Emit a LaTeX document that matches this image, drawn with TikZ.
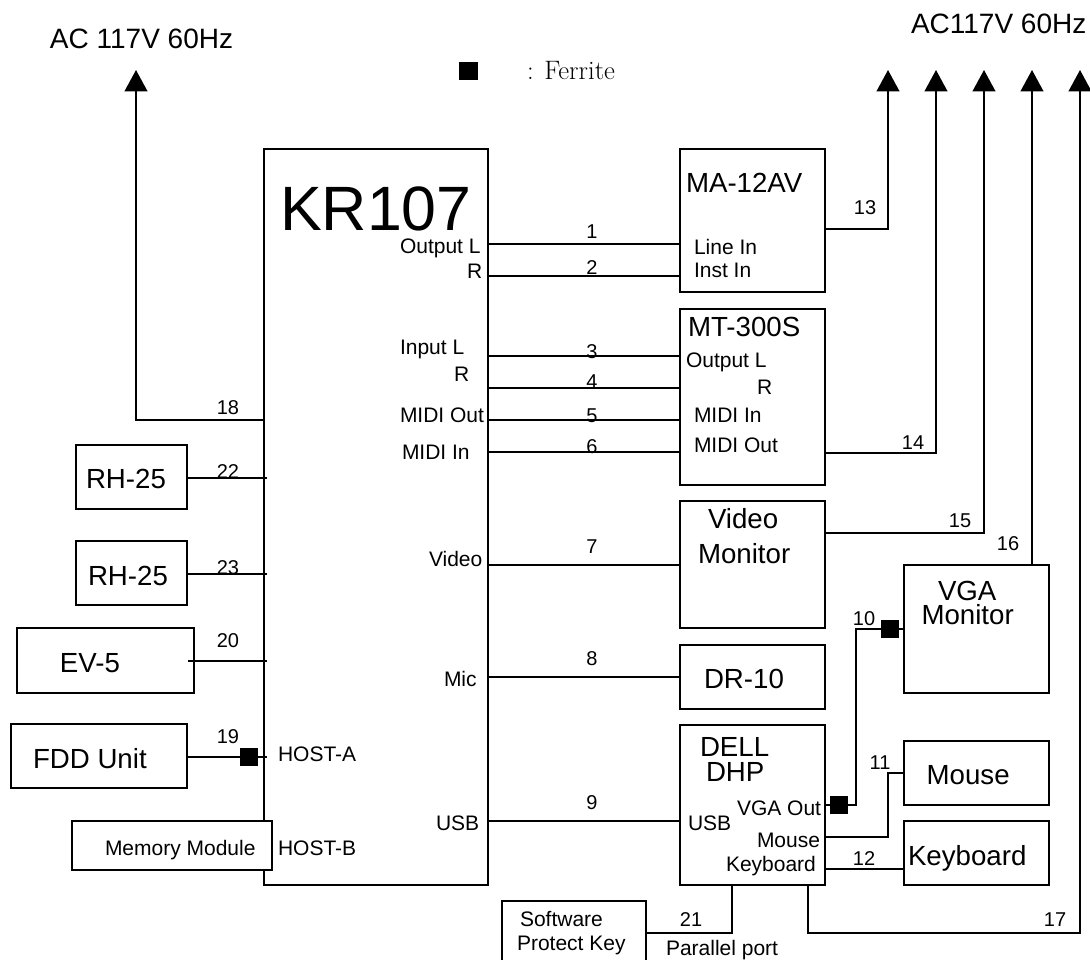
\documentclass[tikz,border=0pt]{standalone}
\usepackage{fontspec}
\setmainfont{Liberation Sans}
\newfontfamily\lmfont{Latin Modern Roman}
\usetikzlibrary{arrows.meta}
\tikzset{
  box/.style={draw=black,line width=1.9pt,fill=white,inner sep=0pt,outer sep=0pt},
  wire/.style={draw=black,line width=1.5pt},
  thinwire/.style={draw=black,line width=1.1pt},
  power/.style={wire,-{Triangle[width=17pt,length=16pt]}},
  ferrite/.style={fill=black,inner sep=0pt,outer sep=0pt,minimum width=13.5pt,minimum height=14pt},
  txt/.style={inner sep=0pt,outer sep=0pt,anchor=base west},
  small/.style={txt,font=\fontsize{15.75}{15.75}\selectfont},
  big/.style={txt,font=\fontsize{20.75}{20.75}\selectfont},
  ac/.style={txt,font=\fontsize{21}{21}\selectfont},
  num/.style={inner sep=0pt,outer sep=0pt,anchor=base,font=\fontsize{15}{15}\selectfont},
  title/.style={txt,font=\fontsize{47}{47}\selectfont}
}
\newcommand{\pbox}[5]{\node[box,minimum width={(#4-#2)*0.75pt},minimum height={(#5-#3)*0.75pt}] (#1) at ({(#2+#4)/2},{(#3+#5)/2}) {};}
\begin{document}
\begin{tikzpicture}[x=0.75pt,y=-0.75pt]
\useasboundingbox (0,0) rectangle (1090,960);
% boxes
\pbox{kr}{264}{149}{488}{885}
\pbox{ma}{680}{149}{825}{292}
\pbox{mt}{680}{309}{825}{485}
\pbox{vid}{680}{501}{825}{628}
\pbox{dr}{680}{645}{825}{709}
\pbox{dell}{680}{725}{825}{885}
\pbox{vga}{904}{565}{1049}{693}
\pbox{mouse}{904}{741}{1049}{805}
\pbox{kbd}{904}{821}{1049}{885}
\pbox{rha}{76}{445}{187}{509}
\pbox{rhb}{76}{541}{187}{605}
\pbox{ev}{17}{628}{194}{693}
\pbox{fdd}{11}{724}{187}{788}
\pbox{mem}{72}{821}{272}{870}
\pbox{soft}{502}{901}{646}{972}
% free ends
\coordinate (up18) at (136,70);
\coordinate (up13) at (888,70);
\coordinate (up14) at (936,70);
\coordinate (up15) at (984,70);
\coordinate (up16) at (1032,70);
\coordinate (up17) at (1080,70);
\coordinate (in22) at (267,478);
\coordinate (in23) at (267,574);
\coordinate (in20) at (267,661);
\coordinate (in19) at (267,757);
\coordinate (ev20) at (188,661);
% connectors, left
\draw[power] (kr.west |- 0,420) -| (up18);
\draw[wire] (rha.east |- in22) -- (in22);
\draw[wire] (rhb.east |- in23) -- (in23);
\draw[thinwire] (ev20) -- (in20);
\draw[wire] (fdd.east |- in19) -- (in19);
% connectors, right
\foreach \yy/\tgt in {244/ma,276/ma,356/mt,388/mt,420/mt,452/mt,565/vid,677/dr,821/dell}
  \draw[wire] (kr.east |- 0,\yy) -- (\tgt.west |- 0,\yy);
\draw[power] (ma.east |- 0,229) -| (up13);
\draw[power] (mt.east |- 0,453) -| (up14);
\draw[power] (vid.east |- 0,533) -| (up15);
\draw[power] (vga.north -| up16) -- (up16);
\draw[power] (dell.south -| 808,0) |- (1080,933) -- (up17);
\draw[thinwire] (dell.east |- 0,805) -- (856,805) |- (vga.west |- 0,629);
\draw[thinwire] (dell.east |- 0,837) -- (888,837) |- (mouse.west |- 0,773);
\draw[thinwire] (dell.east |- 0,869) -- (kbd.west |- 0,869);
\draw[thinwire] (soft.east |- 0,933) -- (732,933) -- (dell.south -| 732,0);
% ferrites
\node[ferrite] (fa) at (249,757) {};
\node[ferrite] (fb) at (839,805) {};
\node[ferrite] (fc) at (890,629) {};
\node[ferrite,minimum width=14.5pt] (fd) at (468.5,71) {};
% numbers
\foreach \n/\px/\py in {1/592/238,2/592/274,3/592/358,4/592/388,5/592/422,6/592/453,7/592/553,8/592/665,9/592/809,
  10/864/625,11/880/769,12/864/865,13/865/214,14/913/449,15/960/527,16/1008/550,17/1055/926,
  18/228/414,19/228/743,20/228/647,21/691/926,22/228/478,23/228/574}
  \node[num] (n\n) at (\px,\py) {\n};
% titles
\node[title] (tkr) at (280,230) {KR107};
\node[ac] (tac) at (50,48) {AC 117V 60Hz};
\node[ac] (tacb) at (911,33) {AC117V 60Hz};
\node[txt,font=\lmfont\fontsize{20}{20}\selectfont] (tfer) at (527,79) {: Ferrite};
% big labels
\node[big] (l1) at (686,192) {MA-12AV};
\node[big] (l2) at (688,336) {MT-300S};
\node[big] (l3) at (708,528) {Video};
\node[big] (l4) at (698,563) {Monitor};
\node[big] (l5) at (938,600) {VGA};
\node[big] (l6) at (921.5,624) {Monitor};
\node[big] (l7) at (704,688) {DR-10};
\node[big] (l8) at (700,756) {DELL};
\node[big] (l9) at (706,781) {DHP};
\node[big] (l10) at (926.6,784) {Mouse};
\node[big] (l11) at (908,865) {Keyboard};
\node[big] (l12) at (86,488) {RH-25};
\node[big] (l13) at (88,585) {RH-25};
\node[big] (l14) at (60,672) {EV-5};
\node[big] (l15) at (33,768) {FDD Unit};
% small labels
\node[small] (s1) at (400,253) {Output L};
\node[small] (s2) at (467,278) {R};
\node[small] (s3) at (694,254) {Line In};
\node[small] (s4) at (694,277) {Inst In};
\node[small] (s5) at (400,354) {Input L};
\node[small] (s6) at (454,381) {R};
\node[small] (s7) at (400,422) {MIDI Out};
\node[small] (s8) at (402,459) {MIDI In};
\node[small] (s9) at (686,367) {Output L};
\node[small] (s10) at (757,394) {R};
\node[small] (s11) at (694,422) {MIDI In};
\node[small] (s12) at (694,452) {MIDI Out};
\node[small] (s13) at (429,566) {Video};
\node[small] (s14) at (444,686) {Mic};
\node[small] (s15) at (436,830) {USB};
\node[small] (s16) at (278,761.5) {HOST-A};
\node[small] (s17) at (278,855) {HOST-B};
\node[small] (s18) at (105,855) {Memory Module};
\node[small] (s19) at (737,815) {VGA Out};
\node[small] (s20) at (688,830) {USB};
\node[small] (s21) at (757,847) {Mouse};
\node[small] (s22) at (726,871) {Keyboard};
\node[small] (s23) at (520,926) {Software};
\node[small] (s24) at (517,950) {Protect Key};
\node[small] (s25) at (666,955) {Parallel port};
\end{tikzpicture}
\end{document}
